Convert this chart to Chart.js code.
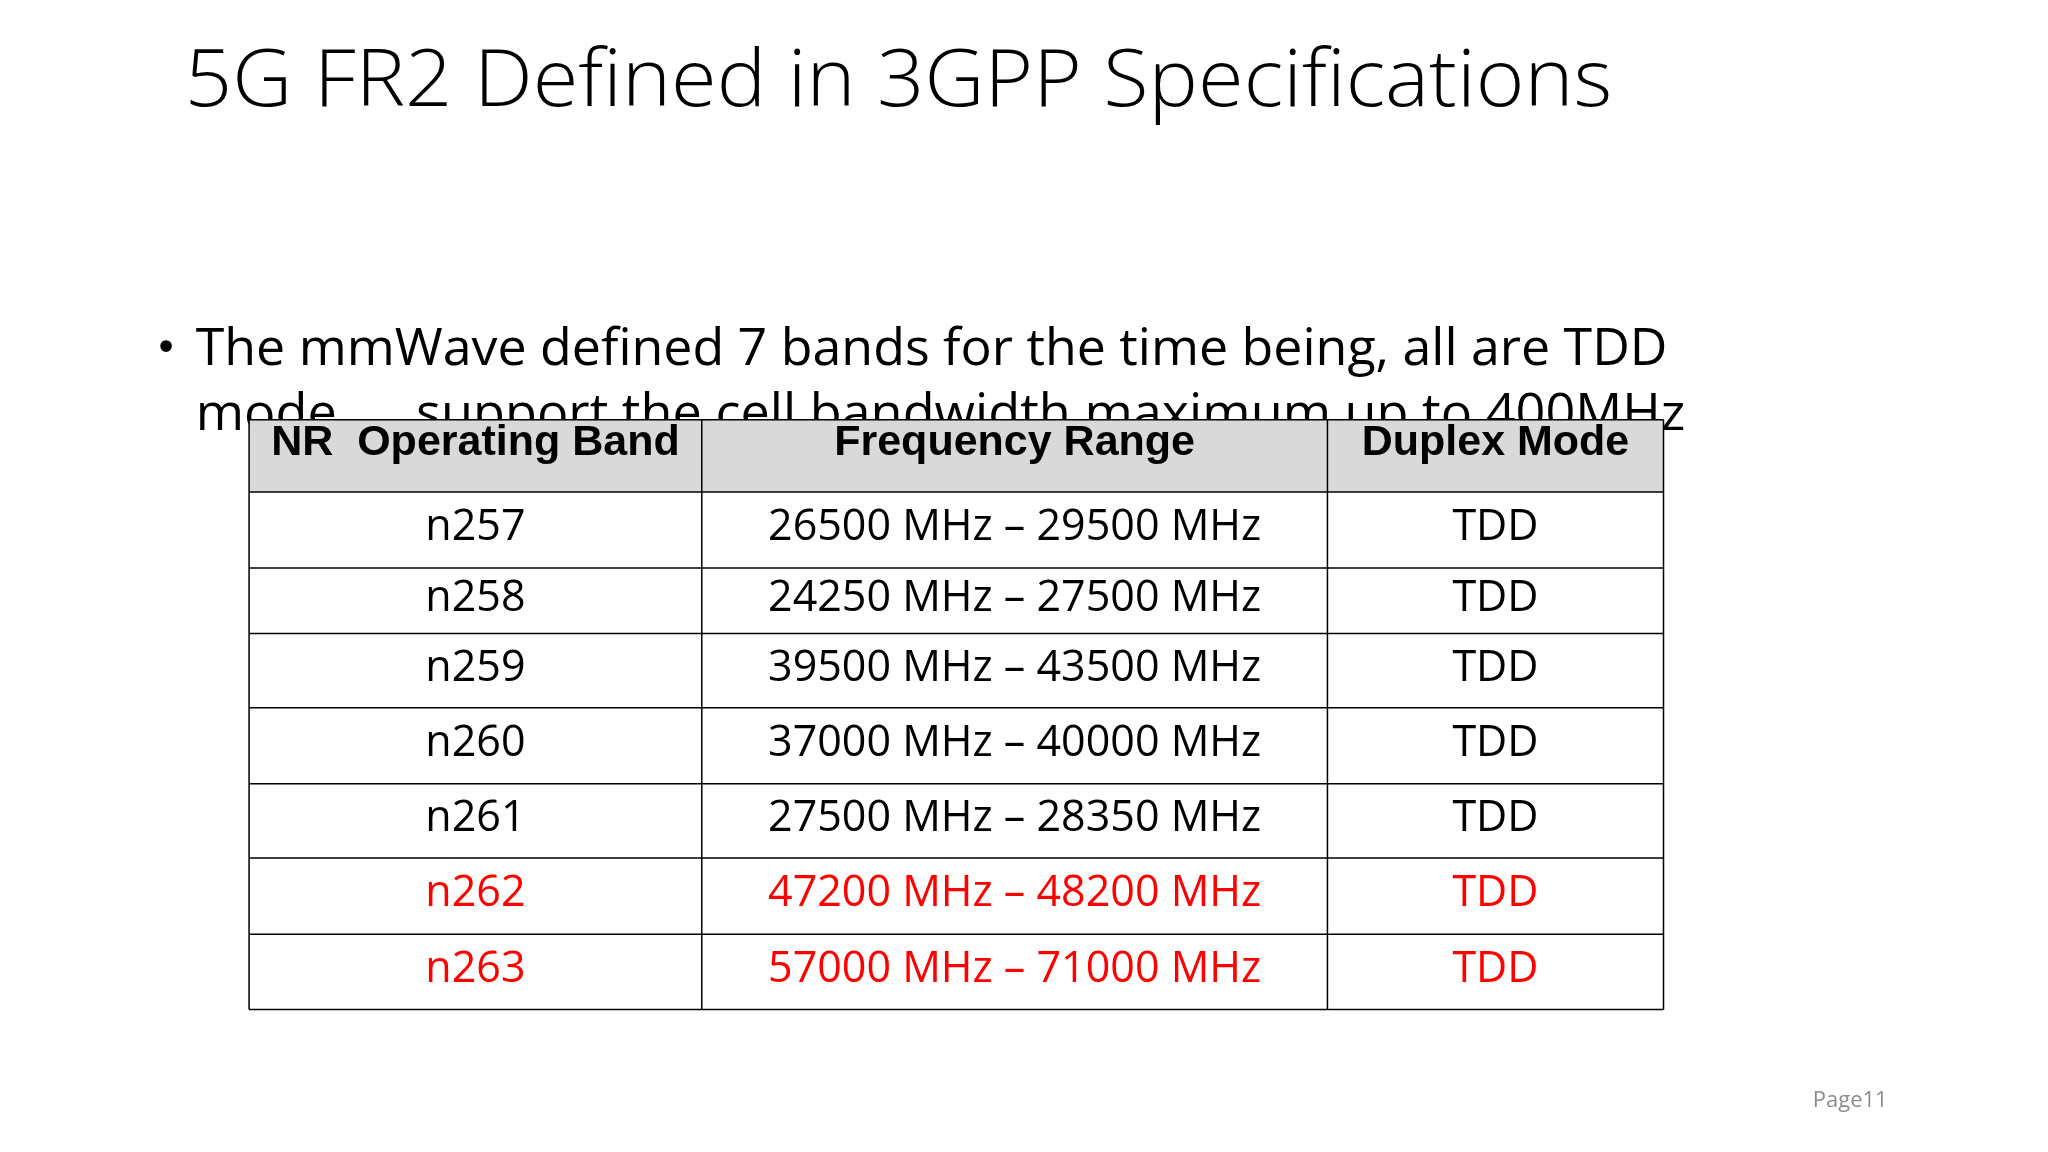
<!DOCTYPE html>
<html>
<head>
<meta charset="utf-8">
<script src="https://cdn.jsdelivr.net/npm/chart.js@4.4.1/dist/chart.umd.min.js"></script>
<style>
  html, body { margin: 0; padding: 0; background: #fff; }
  #wrap { width: 2048px; height: 1152px; position: relative; }
</style>
</head>
<body>
<div id="wrap"><canvas id="slide"></canvas></div>
<script>
// ==================== DATA ====================
const title = '5G FR2 Defined in 3GPP Specifications';
const bulletLines = [
    'The mmWave defined 7 bands for the time being, all are TDD',
    'mode\uFF0C  support the cell bandwidth maximum up to 400MHz'
];
const headers = ['NR  Operating Band', 'Frequency Range', 'Duplex Mode'];
const bands = ['n257', 'n258', 'n259', 'n260', 'n261', 'n262', 'n263'];
const ranges = [
    '26500 MHz \u2013 29500 MHz',
    '24250 MHz \u2013 27500 MHz',
    '39500 MHz \u2013 43500 MHz',
    '37000 MHz \u2013 40000 MHz',
    '27500 MHz \u2013 28350 MHz',
    '47200 MHz \u2013 48200 MHz',
    '57000 MHz \u2013 71000 MHz'
];
const duplex = ['TDD', 'TDD', 'TDD', 'TDD', 'TDD', 'TDD', 'TDD'];
const highlighted = ['n262', 'n263'];
const pageLabel = 'Page11';

// ==================== LAYOUT (page units) ====================
const colEdges = [252, 710, 1343, 1683];
const rowEdges = [424, 497, 574, 640, 715, 792, 867, 944, 1020];

function fitText(ctx, text, x, y, width, font) {
    ctx.font = font;
    const w = ctx.measureText(text).width;
    ctx.save();
    ctx.translate(x, y);
    ctx.scale(width / w, 1);
    ctx.fillText(text, 0, 0);
    ctx.restore();
}

const slidePlugin = {
    id: 'slide',
    afterDraw(chart) {
        const { ctx, scales: { x, y } } = chart;
        const px = v => x.getPixelForValue(v);
        const py = v => y.getPixelForValue(v);
        const sx = px(1) - px(0);

        ctx.save();
        ctx.textBaseline = 'alphabetic';
        ctx.textAlign = 'left';
        ctx.fillStyle = '#000';
        // title
        fitText(ctx, title, px(187), py(107), 1444 * sx, '300 80px "Open Sans"');
        // bullet
        ctx.font = Math.round(40 * sx) + 'px "DejaVu Sans"';
        ctx.fillText('\u2022', px(156), py(365));
        fitText(ctx, bulletLines[0], px(198), py(369), 1489 * sx, '52px "Open Sans"');
        fitText(ctx, bulletLines[1], px(198), py(434), 1507 * sx, '52px "Open Sans"');

        // table cells
        const rows = [headers].concat(bands.map((b, i) => [b, ranges[i], duplex[i]]));
        rows.forEach((row, r) => {
            const top = py(rowEdges[r]), bot = py(rowEdges[r + 1]);
            row.forEach((txt, c) => {
                const l = px(colEdges[c]), rr = px(colEdges[c + 1]);
                ctx.fillStyle = r === 0 ? '#d9d9d9' : '#ffffff';
                ctx.fillRect(l, top, rr - l, bot - top);
                ctx.textAlign = 'center';
                if (r === 0) {
                    ctx.textBaseline = 'top';
                    ctx.fillStyle = '#000';
                    ctx.font = 'bold ' + Math.round(43 * sx) + 'px "Liberation Sans"';
                    ctx.fillText(txt, (l + rr) / 2, top + 2 * sx);
                } else {
                    ctx.textBaseline = 'middle';
                    ctx.fillStyle = highlighted.includes(row[0]) ? '#ff0000' : '#000';
                    ctx.font = Math.round(44 * sx) + 'px "Open Sans"';
                    ctx.fillText(txt, (l + rr) / 2, (top + bot) / 2 - 2 * sx);
                }
            });
        });
        // grid lines
        ctx.strokeStyle = '#000';
        ctx.lineWidth = 1.5;
        ctx.beginPath();
        rowEdges.forEach(v => { ctx.moveTo(px(colEdges[0]), py(v)); ctx.lineTo(px(colEdges[3]), py(v)); });
        colEdges.forEach(v => { ctx.moveTo(px(v), py(rowEdges[0])); ctx.lineTo(px(v), py(rowEdges[8])); });
        ctx.stroke();

        // page number
        ctx.textAlign = 'left';
        ctx.textBaseline = 'alphabetic';
        ctx.fillStyle = '#8c8c8c';
        ctx.font = Math.round(22 * sx) + 'px "Open Sans"';
        ctx.fillText(pageLabel, px(1834), py(1119));
        ctx.restore();
    }
};

new Chart(document.getElementById('slide'), {
    type: 'scatter',
    data: { datasets: [] },
    options: {
        responsive: true,
        maintainAspectRatio: false,
        animation: false,
        layout: { padding: 0 },
        plugins: { legend: { display: false }, tooltip: { enabled: false } },
        scales: {
            x: { type: 'linear', min: 0, max: 2072, display: false },
            y: { type: 'linear', min: 0, max: 1164, reverse: true, display: false }
        }
    },
    plugins: [slidePlugin]
});
</script>
</body>
</html>
